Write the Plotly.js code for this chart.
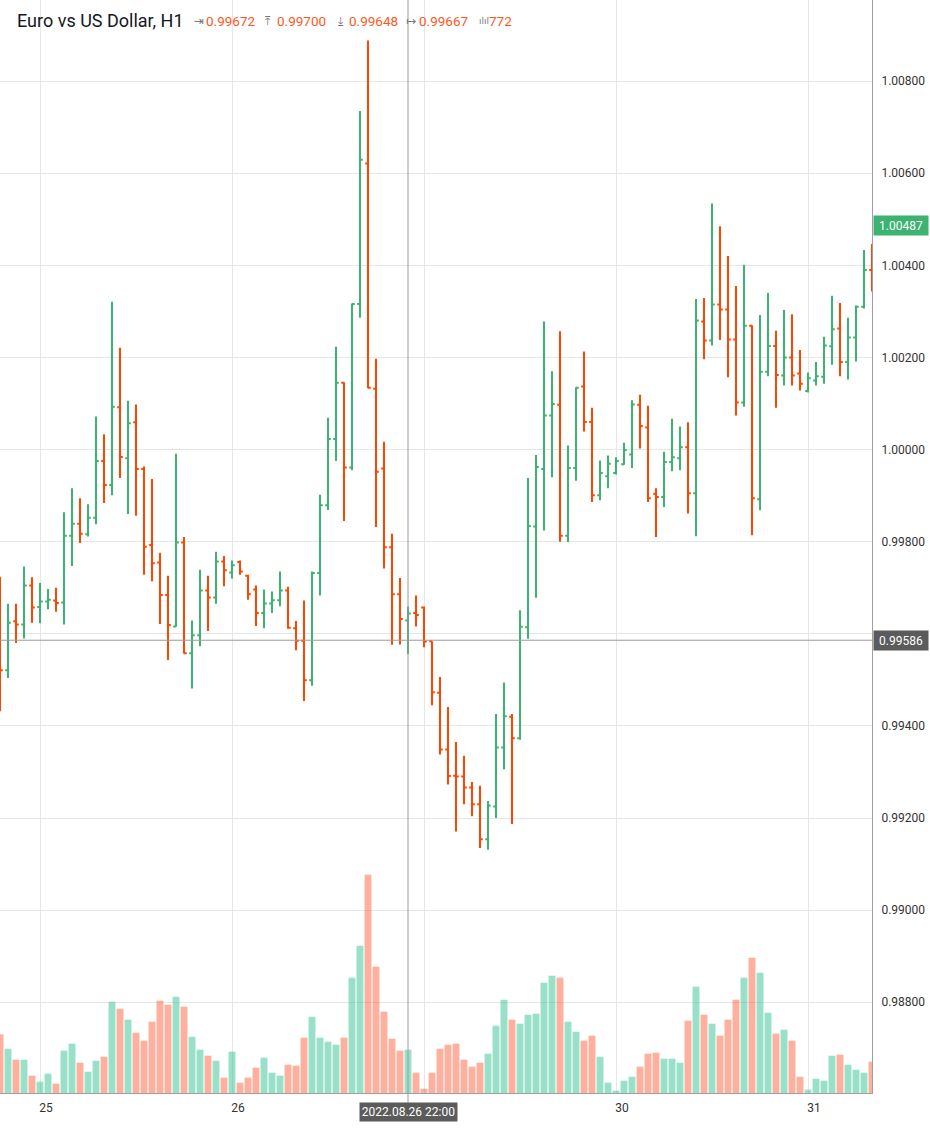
<!DOCTYPE html>
<html><head><meta charset="utf-8">
<script src="https://cdn.plot.ly/plotly-3.0.1.min.js"></script>
<style>html,body{margin:0;padding:0;background:#fff}#chart{width:930px;height:1128px}</style>
</head><body><div id="chart"></div>
<script>
// EURUSD H1 bars, 24 Aug 19:00 -> 31 Aug 08:00 (index 0..109)
const opens = [0.99680,0.99521,0.99627,0.99620,0.99705,0.99658,0.99670,0.99672,0.99668,0.99813,
0.99839,0.99816,0.99852,0.99975,0.99923,1.00092,0.99981,1.00059,0.99958,0.99793,
0.99755,0.99684,0.99616,0.99798,0.99558,0.99597,0.99694,0.99679,0.99757,0.99733,
0.99756,0.99726,0.99696,0.99645,0.99666,0.99673,0.99694,0.99612,0.99585,0.99499,
0.99732,0.99879,1.00023,1.00145,0.99961,1.00316,1.00621,1.00132,0.99959,0.99788,
0.99686,0.99629,0.99645,0.99657,0.99584,0.99472,0.99349,0.99292,0.99290,0.99266,
0.99230,0.99154,0.99225,0.99353,0.99420,0.99373,0.99614,0.99833,0.99958,1.00074,
1.00097,0.99813,0.99960,1.00137,1.00060,0.99901,0.99942,0.99949,0.99968,0.99989,
1.00097,1.00048,0.99904,0.99897,0.99973,0.99981,1.00005,0.99905,1.00278,1.00237,
1.00315,1.00304,1.00239,1.00102,1.00269,0.99892,1.00169,1.00225,1.00161,1.00200,
1.00165,1.00127,1.00150,1.00158,1.00224,1.00263,1.00190,1.00243,1.00310,1.00390];
const highs = [0.99724,0.99665,0.99665,0.99746,0.99723,0.99710,0.99697,0.99700,0.99864,0.99916,
0.99894,0.99881,1.00072,1.00033,1.00321,1.00221,1.00106,1.00098,0.99963,0.99936,
0.99776,0.99726,0.99991,0.99810,0.99629,0.99739,0.99726,0.99778,0.99769,0.99759,
0.99759,0.99728,0.99705,0.99696,0.99692,0.99735,0.99702,0.99628,0.99672,0.99735,
0.99902,1.00069,1.00223,1.00146,1.00317,1.00735,1.00888,1.00197,1.00017,0.99817,
0.99721,0.99659,0.99683,0.99659,0.99584,0.99506,0.99441,0.99365,0.99335,0.99278,
0.99270,0.99237,0.99426,0.99494,0.99426,0.99651,0.99938,0.99988,1.00278,1.00170,
1.00257,1.00009,1.00135,1.00213,1.00091,0.99976,0.99987,0.99983,1.00015,1.00107,
1.00119,1.00095,0.99916,0.99995,1.00067,1.00050,1.00059,1.00327,1.00329,1.00534,
1.00485,1.00420,1.00355,1.00401,1.00270,1.00292,1.00340,1.00258,1.00303,1.00294,
1.00216,1.00167,1.00190,1.00245,1.00334,1.00318,1.00286,1.00313,1.00433,1.00446];
const lows = [0.99432,0.99504,0.99580,0.99590,0.99624,0.99623,0.99653,0.99648,0.99620,0.99747,
0.99797,0.99811,0.99838,0.99884,0.99901,0.99938,0.99860,0.99856,0.99728,0.99714,
0.99621,0.99543,0.99615,0.99557,0.99481,0.99573,0.99606,0.99665,0.99703,0.99720,
0.99728,0.99674,0.99617,0.99612,0.99645,0.99660,0.99611,0.99564,0.99454,0.99487,
0.99683,0.99869,0.99975,0.99845,0.99955,1.00286,1.00133,0.99832,0.99742,0.99576,
0.99577,0.99556,0.99616,0.99571,0.99445,0.99338,0.99273,0.99171,0.99230,0.99204,
0.99135,0.99131,0.99200,0.99306,0.99187,0.99370,0.99589,0.99678,0.99824,0.99940,
0.99800,0.99799,0.99932,1.00039,0.99886,0.99890,0.99916,0.99946,0.99967,0.99960,
1.00002,0.99886,0.99810,0.99875,0.99953,0.99955,0.99861,0.99812,1.00196,1.00226,
1.00238,1.00157,1.00074,1.00093,0.99814,0.99868,1.00159,1.00091,1.00139,1.00139,
1.00128,1.00124,1.00139,1.00143,1.00184,1.00159,1.00152,1.00191,1.00306,1.00343];
const closes = [0.99521,0.99624,0.99620,0.99705,0.99657,0.99670,0.99674,0.99667,0.99813,0.99839,
0.99817,0.99852,0.99975,0.99923,1.00093,0.99984,1.00057,0.99958,0.99789,0.99753,
0.99684,0.99619,0.99798,0.99558,0.99597,0.99694,0.99679,0.99757,0.99738,0.99749,
0.99735,0.99686,0.99645,0.99666,0.99673,0.99694,0.99613,0.99585,0.99499,0.99732,
0.99879,1.00023,1.00145,0.99961,1.00316,1.00629,1.00134,0.99952,0.99788,0.99686,
0.99632,0.99644,0.99641,0.99583,0.99473,0.99349,0.99291,0.99290,0.99266,0.99230,
0.99154,0.99227,0.99353,0.99421,0.99373,0.99615,0.99834,0.99962,1.00074,1.00099,
0.99813,0.99960,1.00134,1.00060,0.99901,0.99949,0.99969,0.99975,0.99999,1.00098,
1.00051,0.99894,0.99897,0.99973,0.99983,1.00005,0.99905,1.00280,1.00237,1.00315,
1.00304,1.00239,1.00102,1.00269,0.99894,1.00169,1.00225,1.00162,1.00200,1.00161,
1.00143,1.00155,1.00159,1.00226,1.00261,1.00190,1.00243,1.00310,1.00390,1.00380];
const volumes = [4872,3677,2764,2764,1436,938,1602,772,3511,4092,
2515,1768,2681,3013,7578,6997,6084,5005,4341,5918,
7661,7329,7993,7163,4673,3594,3096,2681,1270,3428,
855,1270,2100,2930,1685,1436,2349,2266,4590,6333,
4590,4258,4009,4590,9570,12226,18119,10483,6748,4507,
3511,3594,1685,357,1685,3677,4009,4092,2764,2183,
2515,3262,5586,7744,6084,5752,6499,6582,9155,9736,
9570,5918,5088,4341,4756,3013,855,191,1021,1353,
2183,3262,3345,2847,2847,2515,6001,8823,6499,5752,
4756,6084,7744,9570,11230,9985,6665,4922,5254,4341,
1353,274,1187,1021,3096,3179,2349,1934,1685,2598];
const dayTickIdx = [5, 29, 53, 77, 101];
const dayTickText = ['25', '26', '', '30', '31'];   // "29" is hidden under the crosshair time box
const priceTicks = [0.988, 0.990, 0.992, 0.994, 0.996, 0.998, 1.000, 1.002, 1.004, 1.006, 1.008];
const priceTickText = ['0.98800', '0.99000', '0.99200', '0.99400', '', '0.99800', '1.00000', '1.00200', '1.00400', '1.00600', '1.00800'];
const headerTitle = 'Euro vs US Dollar, H1';
const headerIcons = ['⇥', '⤒', '⤓', '↦', 'ılıl'];
const headerValues = ['0.99672', '0.99700', '0.99648', '0.99667', '772'];
const lastPrice = 1.00487;
const crossPrice = 0.99586;
const crossIndex = 51;
const crossTimeLabel = '2022.08.26 22:00';

const idx = opens.map((_, i) => i);
const GREEN = '#3cb371', RED = '#ff4500';
const volColors = idx.map(i => closes[i] >= opens[i] ? 'rgba(40,190,140,0.48)' : 'rgba(250,80,40,0.45)');

const W = 872, H = 1093; // plot area in px
const px = p => p / W;
const py = p => (H - p) / H;

const traces = [
  {type: 'bar', x: idx, y: volumes, yaxis: 'y2', width: 0.86,
   marker: {color: volColors, line: {width: 0}}, hoverinfo: 'skip', showlegend: false},
  {type: 'ohlc', x: idx, open: opens, high: highs, low: lows, close: closes,
   increasing: {line: {color: GREEN, width: 2}}, decreasing: {line: {color: RED, width: 2}},
   tickwidth: 0.35, hoverinfo: 'skip', showlegend: false}
];

const ann = [];
ann.push({xref: 'paper', yref: 'paper', x: px(15), y: py(20), xanchor: 'left', yanchor: 'middle',
  text: headerTitle, showarrow: false, font: {family: 'Roboto', size: 18, color: '#131722'}});
const iconX = [192, 263, 336, 404, 477];
const valX = [204, 275, 347, 417, 487];
headerValues.forEach((v, k) => {
  ann.push({xref: 'paper', yref: 'paper', x: px(iconX[k]), y: py(21), xanchor: 'left', yanchor: 'middle',
    text: headerIcons[k], showarrow: false,
    font: {family: 'DejaVu Sans', size: k === 4 ? 9 : 12, color: '#777'}});
  ann.push({xref: 'paper', yref: 'paper', x: px(valX[k]), y: py(21), xanchor: 'left', yanchor: 'middle',
    text: v, showarrow: false, font: {family: 'Roboto', size: 13.5, color: '#ff5722'}});
});
ann.push({xref: 'paper', yref: 'y', x: 1, y: lastPrice, xanchor: 'left', yanchor: 'middle', xshift: 1,
  text: lastPrice.toFixed(5), showarrow: false, bgcolor: GREEN, width: 52, height: 17,
  font: {family: 'Roboto', size: 12, color: '#ffffff'}});
ann.push({xref: 'paper', yref: 'y', x: 1, y: crossPrice, xanchor: 'left', yanchor: 'middle', xshift: 1,
  text: crossPrice.toFixed(5), showarrow: false, bgcolor: '#5b5b5b', width: 52, height: 17,
  font: {family: 'Roboto', size: 12, color: '#ffffff'}});
ann.push({xref: 'x', yref: 'paper', x: crossIndex, y: py(1112), xanchor: 'center', yanchor: 'middle',
  text: crossTimeLabel, showarrow: false, bgcolor: '#5b5b5b', width: 95, height: 16,
  font: {family: 'Roboto', size: 12, color: '#ffffff'}});

const layout = {
  width: 930, height: 1128,
  margin: {l: 0, r: 58, t: 0, b: 35, pad: 0},
  paper_bgcolor: '#ffffff', plot_bgcolor: '#ffffff',
  showlegend: false, hovermode: false, dragmode: false,
  xaxis: {range: [0, 109], rangeslider: {visible: false}, tickmode: 'array',
    tickvals: dayTickIdx, ticktext: dayTickText, showgrid: true, gridcolor: '#e6e6e6', gridwidth: 1,
    zeroline: false, showline: true, linecolor: '#a0a0a0', linewidth: 1, mirror: true,
    ticks: 'outside', ticklen: 4, tickcolor: 'rgba(0,0,0,0)', ticklabelshift: 6,
    tickfont: {family: 'Roboto', size: 12, color: '#333'}, fixedrange: true},
  yaxis: {side: 'right', range: [0.98603, 1.00976], tickmode: 'array', tickvals: priceTicks,
    ticktext: priceTickText, showgrid: true, gridcolor: '#e6e6e6', gridwidth: 1, zeroline: false,
    showline: true, linecolor: '#a0a0a0', linewidth: 1, ticks: 'outside', ticklen: 6,
    tickcolor: 'rgba(0,0,0,0)', tickfont: {family: 'Roboto', size: 12, color: '#333'}, fixedrange: true},
  yaxis2: {overlaying: 'y', side: 'left', range: [0, 90719], visible: false, showgrid: false,
    zeroline: false, fixedrange: true},
  shapes: [
    {type: 'line', xref: 'x', yref: 'paper', x0: crossIndex, x1: crossIndex, y0: py(1103), y1: 1,
     line: {color: '#9a9a9a', width: 1}},
    {type: 'line', xref: 'paper', yref: 'y', x0: 0, x1: 1, y0: crossPrice, y1: crossPrice,
     line: {color: '#9a9a9a', width: 1}}
  ],
  annotations: ann
};

Plotly.newPlot('chart', traces, layout, {staticPlot: true, displayModeBar: false});
</script>
</body></html>
